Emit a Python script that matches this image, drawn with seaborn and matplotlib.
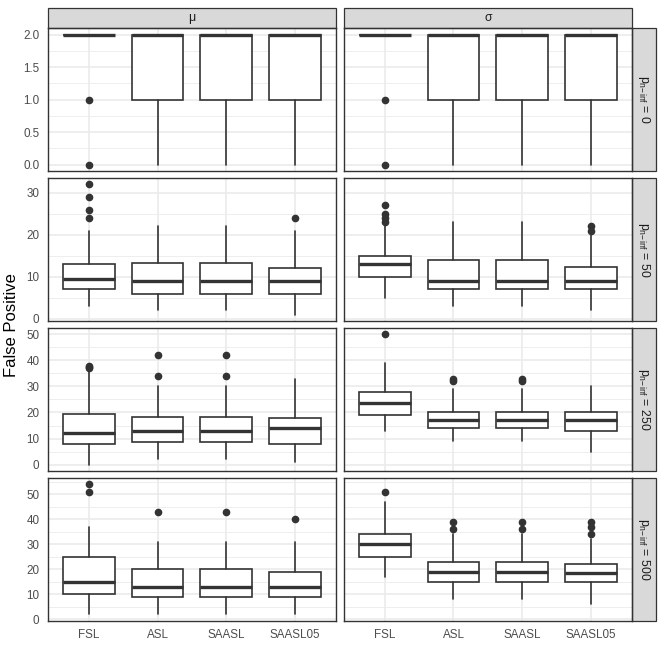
import numpy as np
import pandas as pd
import matplotlib
matplotlib.use("Agg")
import matplotlib.pyplot as plt
import seaborn as sns
from matplotlib.patches import Rectangle
from matplotlib.ticker import MultipleLocator, FormatStrFormatter

# categories
methods = ["FSL", "ASL", "SAASL", "SAASL05"]
params = ["μ", "σ"]
p_levels = [0, 50, 250, 500]

# box stats: rows = p_levels, columns = methods
mu_lo  = [[2, 0, 0, 0], [3, 2, 2, 1], [0, 2, 2, 1], [2, 2, 2, 2]]
mu_q1  = [[2, 1, 1, 1], [7, 6, 6, 6], [8, 8.75, 8.75, 8], [10, 9, 9, 9]]
mu_med = [[2, 2, 2, 2], [9.5, 9, 9, 9], [12, 13, 13, 14], [15, 13, 13, 13]]
mu_q3  = [[2, 2, 2, 2], [13, 13.25, 13.25, 12], [19.5, 18.25, 18.25, 18], [25, 20, 20, 19]]
mu_hi  = [[2, 2, 2, 2], [21, 22, 22, 21], [36, 30, 30, 33], [37, 31, 31, 31]]
mu_out = [[[0, 1], [], [], []],
          [[24, 26, 29, 32], [], [], [24]],
          [[37, 37.5, 38], [34, 42], [34, 42], []],
          [[51, 54], [43], [43], [40]]]

sd_lo  = [[2, 0, 0, 0], [5, 3, 3, 2], [13, 9, 9, 5], [17, 8, 8, 6]]
sd_q1  = [[2, 1, 1, 1], [10, 7, 7, 7], [19, 14, 14, 13], [25, 15, 15, 15]]
sd_med = [[2, 2, 2, 2], [13, 9, 9, 9], [23.5, 17, 17, 17], [30, 19, 19, 18.5]]
sd_q3  = [[2, 2, 2, 2], [15, 14, 14, 12.25], [28, 20, 20, 20], [34, 23, 23, 22]]
sd_hi  = [[2, 2, 2, 2], [22, 23, 23, 20], [39, 29, 29, 30], [47, 34, 34, 32]]
sd_out = [[[0, 1], [], [], []],
          [[23, 24, 25, 27], [], [], [21, 22]],
          [[50], [32, 33], [32, 33], []],
          [[51], [36, 39], [36, 39], [34, 37, 39]]]

tables = {"μ": (mu_lo, mu_q1, mu_med, mu_q3, mu_hi, mu_out),
          "σ": (sd_lo, sd_q1, sd_med, sd_q3, sd_hi, sd_out)}

rows = []
for par in params:
    lo, q1, med, q3, hi, out = tables[par]
    for i, p in enumerate(p_levels):
        for j, m in enumerate(methods):
            rows.append(dict(param=par, p=p, method=m, lo=lo[i][j], q1=q1[i][j],
                             med=med[i][j], q3=q3[i][j], hi=hi[i][j], fliers=out[i][j]))
df = pd.DataFrame(rows)

sns.set_theme(style="whitegrid")
plt.rcParams['font.family'] = ['Liberation Sans', 'DejaVu Sans']
plt.rcParams['mathtext.fontset'] = 'custom'
plt.rcParams['mathtext.rm'] = 'Liberation Sans'
plt.rcParams['mathtext.it'] = 'Liberation Sans:italic'

DARK = '#333333'


def draw_boxes(data, **kws):
    ax = plt.gca()
    data = data.set_index('method').loc[methods]
    stats = [dict(whislo=r.lo, q1=r.q1, med=r.med, q3=r.q3, whishi=r.hi,
                  fliers=r.fliers, label=m) for m, r in data.iterrows()]
    ax.bxp(stats, positions=np.arange(len(methods)), widths=0.75, showcaps=False,
           patch_artist=True, manage_ticks=False,
           boxprops=dict(facecolor='white', edgecolor=DARK, linewidth=1.2),
           whiskerprops=dict(color=DARK, linewidth=1.2),
           medianprops=dict(color=DARK, linewidth=2.4, solid_capstyle='butt'),
           flierprops=dict(marker='o', markerfacecolor=DARK, markeredgecolor=DARK,
                           markersize=4.5, linestyle='none'))


g = sns.FacetGrid(df, row="p", col="param", row_order=p_levels, col_order=params,
                  sharex=True, sharey="row", despine=False, height=1.66, aspect=1.0)
g.map_dataframe(draw_boxes)
g.set_titles(template="")
g.set_axis_labels("", "")

fig = g.figure
fig.set_size_inches(6.64, 6.64)
fig.subplots_adjust(left=47.7 / 664, right=632 / 664, top=1 - 28 / 664,
                    bottom=1 - 621 / 664, wspace=7.5 / 288, hspace=7 / 143.5)

for i, p in enumerate(p_levels):
    sub = df[df.p == p]
    vals = list(sub.lo) + list(sub.hi) + [v for f in sub.fliers for v in f]
    mn, mx = min(vals), max(vals)
    pad = 0.05 * (mx - mn)
    for j, par in enumerate(params):
        ax = g.axes[i, j]
        ax.set_xlim(-0.6, len(methods) - 0.4)
        ax.set_ylim(mn - pad, mx + pad)
        if i == 0:
            ax.yaxis.set_major_locator(MultipleLocator(0.5))
            ax.yaxis.set_minor_locator(MultipleLocator(0.25))
            ax.yaxis.set_major_formatter(FormatStrFormatter('%.1f'))
        else:
            ax.yaxis.set_major_locator(MultipleLocator(10))
            ax.yaxis.set_minor_locator(MultipleLocator(5))
        ax.set_xticks(np.arange(len(methods)))
        ax.set_xticklabels(methods)
        ax.set_axisbelow(True)
        ax.grid(which='major', color='#EBEBEB', linewidth=1.2)
        ax.grid(which='minor', axis='y', color='#EBEBEB', linewidth=0.6)
        ax.tick_params(which='major', length=3.5, width=0.9, color=DARK,
                       labelcolor='#4D4D4D', labelsize=8.4, pad=2.5)
        ax.tick_params(which='minor', length=0)
        if j > 0:
            ax.tick_params(axis='y', left=False, labelleft=False)
        if i < len(p_levels) - 1:
            ax.tick_params(axis='x', bottom=False, labelbottom=False)
        for s in ax.spines.values():
            s.set_color(DARK)
            s.set_linewidth(1.0)

        # strips
        if i == 0:
            h = 20 / 143.5
            ax.add_patch(Rectangle((0, 1), 1, h, transform=ax.transAxes, clip_on=False,
                                   facecolor='#D9D9D9', edgecolor=DARK, linewidth=0.9))
            ax.text(0.5, 1 + h / 2, par, transform=ax.transAxes, ha='center', va='center',
                    fontsize=8.8, color='#1A1A1A')
        if j == len(params) - 1:
            w = 24 / 288
            ax.add_patch(Rectangle((1, 0), w, 1, transform=ax.transAxes, clip_on=False,
                                   facecolor='#D9D9D9', edgecolor=DARK, linewidth=0.9))
            ax.text(1 + w / 2, 0.5, r"$\mathrm{p}_{\mathrm{n\!-\!inf}}$ = " + str(p),
                    transform=ax.transAxes, ha='center', va='center', rotation=-90,
                    fontsize=8.8, color='#1A1A1A')

fig.text(12 / 664, 1 - 325 / 664, "False Positive", rotation=90, ha='center',
         va='center', fontsize=12, color='black')

fig.savefig("out.png", dpi=100)
